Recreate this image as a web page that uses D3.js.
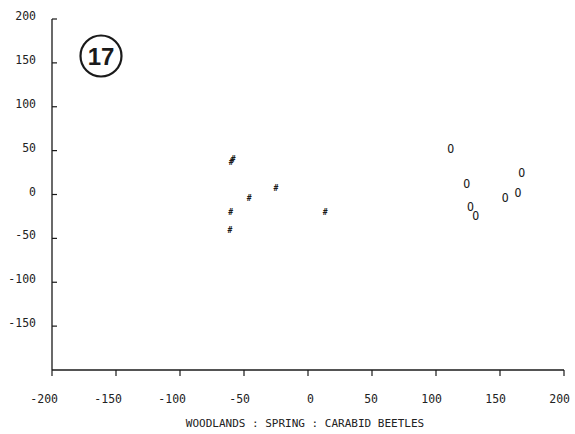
<!DOCTYPE html>
<html lang="en">
<head>
  <meta charset="UTF-8">
  <title>Woodlands : Spring : Carabid Beetles</title>
  <script src="https://d3js.org/d3.v7.min.js"></script>
  <style>
    body { margin: 0; background: #fff; }
    svg { display: block; }
    .lbl { font-family: "DejaVu Sans Mono", monospace; font-size: 11.5px; fill: #222; }
  </style>
</head>
<body>
<svg width="575" height="434"></svg>
<script>
// woodland sites (asterisk markers)
const starX = [-60, -58.5, -25, -46, -60.5, 13.5, -61];
const starY = [37.5, 40, 7.5, -4, -20, -20.5, -41];
// other sites (O markers)
const ohX = [111.5, 167, 124, 164, 154, 127, 131];
const ohY = [52, 24.5, 12.5, 2, -4, -14.5, -24.5];

const xTicks = [-200, -150, -100, -50, 0, 50, 100, 150, 200];
const yTicks = [200, 150, 100, 50, 0, -50, -100, -150];
const title = "WOODLANDS : SPRING : CARABID BEETLES";

const svg = d3.select("svg");
const x = d3.scaleLinear().domain([-200, 200]).range([52, 564]);
const y = d3.scaleLinear().domain([-200, 200]).range([370, 19]);

const ink = "#1a1a1a";

// axes lines
svg.append("line").attr("x1", x(-200)).attr("x2", x(-200)).attr("y1", y(200)).attr("y2", y(-200))
  .attr("stroke", ink).attr("stroke-width", 1.3);
svg.append("line").attr("x1", x(-200)).attr("x2", x(200)).attr("y1", y(-200)).attr("y2", y(-200))
  .attr("stroke", ink).attr("stroke-width", 1.3);

// y ticks (inside) + labels
svg.append("g").selectAll("line").data(yTicks).join("line")
  .attr("x1", x(-200)).attr("x2", x(-200) + 5)
  .attr("y1", d => y(d)).attr("y2", d => y(d))
  .attr("stroke", ink).attr("stroke-width", 1.2);
svg.append("g").selectAll("text").data(yTicks).join("text")
  .attr("class", "lbl").attr("text-anchor", "end")
  .attr("x", 36).attr("y", d => y(d) + 1)
  .text(d => d);

// x ticks (below) + labels
svg.append("g").selectAll("line").data(xTicks).join("line")
  .attr("x1", d => x(d)).attr("x2", d => x(d))
  .attr("y1", y(-200)).attr("y2", y(-200) + 6)
  .attr("stroke", ink).attr("stroke-width", 1.2);
svg.append("g").selectAll("text").data(xTicks).join("text")
  .attr("class", "lbl").attr("text-anchor", "end")
  .attr("x", d => x(d) + 6).attr("y", 403)
  .text(d => d);

svg.append("text").attr("class", "lbl").attr("x", 305).attr("y", 427)
  .attr("text-anchor", "middle").style("font-size", "11px").text(title);

// circled figure number
svg.append("circle").attr("cx", 101).attr("cy", 56).attr("r", 20.5)
  .attr("fill", "none").attr("stroke", ink).attr("stroke-width", 2.2);
svg.append("text").attr("x", 101).attr("y", 64.5).attr("text-anchor", "middle")
  .style("font-family", "Liberation Sans, Arial, sans-serif").style("font-weight", "bold")
  .style("font-size", "24px").attr("fill", ink).text("17");

// markers
const stars = d3.range(starX.length).map(i => ({ x: starX[i], y: starY[i] }));
const ohs = d3.range(ohX.length).map(i => ({ x: ohX[i], y: ohY[i] }));

svg.append("g").selectAll("text").data(stars).join("text")
  .attr("x", d => x(d.x)).attr("y", d => y(d.y) + 3)
  .attr("text-anchor", "middle")
  .style("font-family", "DejaVu Sans Mono, monospace").style("font-weight", "bold")
  .style("font-size", "8px").attr("fill", ink).text("#");

svg.append("g").selectAll("text").data(ohs).join("text")
  .attr("x", d => x(d.x)).attr("y", d => y(d.y) + 4)
  .attr("text-anchor", "middle")
  .style("font-family", "DejaVu Sans Mono, monospace")
  .style("font-size", "11.5px").attr("fill", ink).text("O");
</script>
</body>
</html>
